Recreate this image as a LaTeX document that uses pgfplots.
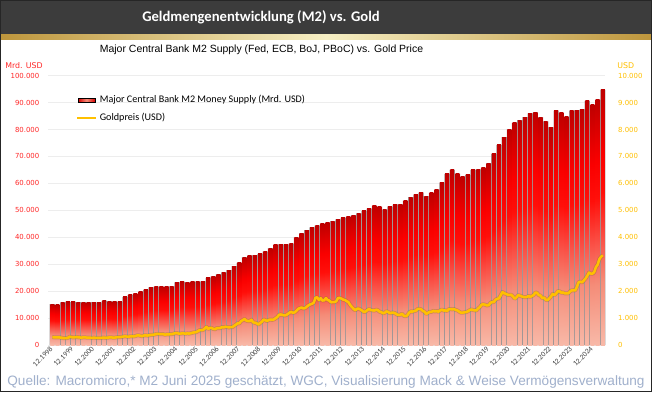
\documentclass[border=0pt]{standalone}
\usepackage{fontspec}
\setmainfont{Liberation Sans}
\newfontfamily\carlito{Carlito}
\newfontfamily\dejavu{DejaVu Sans}
\usepackage{pgfplots}
\pgfplotsset{compat=1.18}
\usepackage{pgfplotstable}

\definecolor{hdr}{RGB}{60,60,60}
\definecolor{goldl}{RGB}{255,192,0}
\definecolor{tickred}{RGB}{255,40,40}
\definecolor{src}{RGB}{160,176,204}
\definecolor{gdark}{RGB}{190,150,60}
\definecolor{glight}{RGB}{246,239,196}
\definecolor{sh0}{RGB}{248,185,168}
\definecolor{sh1}{RGB}{245,140,120}
\definecolor{sh2}{RGB}{250,80,70}
\definecolor{sh3}{RGB}{255,15,10}
\definecolor{sh4}{RGB}{250,0,0}
\definecolor{sh5}{RGB}{215,0,0}
\definecolor{sh6}{RGB}{190,0,0}
\definecolor{gapgray}{RGB}{160,150,150}

\pgfdeclareverticalshading{mtwo}{100bp}{color(0bp)=(sh0); color(25bp)=(sh0); color(37.5bp)=(sh1); color(46bp)=(sh2); color(55bp)=(sh3); color(62.5bp)=(sh4); color(70bp)=(sh5); color(75bp)=(sh6); color(100bp)=(sh6)}

% M2 supply, quarterly from 12.1998 to 06.2025 (Mrd. USD)
\pgfplotstableread[row sep=\\]{
v\\
15200\\14900\\15800\\16000\\16000\\15900\\15900\\15800\\15900\\15700\\16400\\16300\\16100\\16000\\
17900\\18600\\19000\\19700\\20500\\21400\\21700\\21700\\21600\\21800\\23300\\23400\\23300\\23400\\
23500\\23600\\24900\\25500\\26300\\27000\\27800\\29300\\30500\\32600\\33200\\33400\\33800\\34700\\
36000\\37200\\37500\\37300\\37600\\40000\\41500\\42700\\43700\\44300\\45000\\45400\\46000\\46600\\
47200\\47600\\48200\\48900\\49800\\50600\\51700\\51400\\50300\\51400\\52100\\52300\\53600\\54900\\
55800\\56600\\55300\\56500\\57700\\60300\\63500\\65000\\63600\\62500\\63200\\65000\\65200\\65800\\
67500\\71000\\74300\\77200\\80100\\82500\\83500\\84600\\86000\\86500\\84600\\83000\\80800\\87000\\
86200\\84800\\87000\\87200\\87500\\90600\\89200\\91000\\94700\\
}\mtwo

% Gold price, monthly from 12.1998 to 06.2025 (USD)
\pgfplotstableread[row sep=\\]{
g\\
291\\
287\\287\\286\\282\\276\\261\\256\\256\\265\\311\\293\\283\\
284\\300\\286\\280\\275\\286\\282\\275\\274\\270\\266\\272\\
266\\262\\263\\261\\272\\270\\268\\273\\284\\283\\276\\276\\
282\\296\\294\\302\\314\\322\\314\\310\\319\\317\\319\\333\\
357\\359\\340\\328\\355\\356\\351\\360\\379\\379\\389\\407\\
414\\405\\406\\404\\384\\392\\398\\400\\405\\420\\439\\442\\
424\\423\\434\\429\\422\\431\\424\\438\\456\\470\\476\\510\\
549\\555\\557\\610\\676\\596\\633\\632\\598\\585\\627\\629\\
631\\665\\655\\679\\667\\655\\665\\665\\712\\754\\806\\803\\
889\\922\\968\\909\\888\\889\\939\\839\\829\\806\\760\\816\\
858\\943\\924\\890\\929\\946\\934\\949\\996\\1043\\1127\\1134\\
1118\\1095\\1113\\1148\\1205\\1232\\1193\\1215\\1271\\1343\\1370\\1391\\
1356\\1372\\1424\\1474\\1510\\1529\\1572\\1756\\1772\\1665\\1739\\1652\\
1656\\1742\\1673\\1650\\1585\\1596\\1594\\1626\\1744\\1747\\1722\\1685\\
1671\\1627\\1593\\1487\\1414\\1343\\1286\\1347\\1349\\1316\\1276\\1222\\
1244\\1300\\1336\\1299\\1287\\1279\\1311\\1296\\1238\\1222\\1176\\1200\\
1250\\1227\\1179\\1198\\1199\\1181\\1131\\1117\\1125\\1159\\1086\\1068\\
1097\\1199\\1246\\1242\\1260\\1276\\1337\\1341\\1326\\1266\\1236\\1152\\
1192\\1234\\1231\\1266\\1246\\1260\\1236\\1283\\1314\\1280\\1283\\1265\\
1331\\1331\\1325\\1335\\1303\\1282\\1238\\1202\\1199\\1215\\1221\\1250\\
1292\\1320\\1301\\1286\\1284\\1359\\1413\\1500\\1511\\1495\\1471\\1480\\
1560\\1597\\1592\\1683\\1716\\1732\\1846\\1968\\1922\\1900\\1866\\1858\\
1867\\1808\\1718\\1760\\1850\\1834\\1807\\1785\\1775\\1777\\1821\\1790\\
1817\\1856\\1948\\1937\\1849\\1837\\1733\\1765\\1681\\1665\\1726\\1798\\
1898\\1855\\1912\\2000\\1992\\1942\\1951\\1918\\1916\\1916\\1985\\2030\\
2034\\2024\\2160\\2331\\2351\\2326\\2398\\2470\\2571\\2690\\2651\\2648\\
2709\\2895\\2984\\3193\\3280\\3330\\
}\gold

\pgfplotsset{mbar/.style={ybar, bar width=2.25, bar shift=0pt, shade, shading=mtwo, draw=none, forget plot}}

\begin{document}
\begin{tikzpicture}
\begin{scope}[x=0.75pt,y=0.75pt]
\useasboundingbox (0,0) rectangle (652,392);
\fill[white] (0,0) rectangle (652,392);
\fill[hdr] (0,358) rectangle (652,392);
\shade[left color=gdark,right color=gdark,middle color=glight] (0,353) rectangle (652,358);
\node[text=white, font=\carlito\bfseries\fontsize{11}{13}\selectfont] at (261,375) {Geldmengenentwicklung (M2) vs. Gold};
\node[font=\fontsize{7.85}{9.5}\selectfont] at (261.5,342) {Major Central Bank M2 Supply (Fed, ECB, BoJ, PBoC) vs. Gold Price};
\node[anchor=west, text=tickred, font=\dejavu\fontsize{5.9}{6}\selectfont, inner sep=0pt] at (5,326) {Mrd. USD};
\node[anchor=west, text=goldl, font=\dejavu\fontsize{5.9}{6}\selectfont, inner sep=0pt] at (617,326) {USD};
\end{scope}

\begin{axis}[at={(36pt,35.25pt)}, anchor=south west, scale only axis,
  width=418.1pt, height=202pt,
  xmin=-2.5, xmax=319.5, ymin=0, ymax=100000,
  axis y line*=left, axis x line*=bottom,
  axis line style={draw=none}, major tick length=0pt,
  scaled y ticks=false,
  ymajorgrids, grid style={draw=black!7, line width=0.5pt},
  ytick={0,10000,20000,30000,40000,50000,60000,70000,80000,90000,100000},
  yticklabels={0,10.000,20.000,30.000,40.000,50.000,60.000,70.000,80.000,90.000,100.000},
  yticklabel style={font=\dejavu\fontsize{5.2}{6}\selectfont, text=tickred, xshift=-3pt},
  xtick={0,12,...,312},
  xticklabels={12.1998,12.1999,12.2000,12.2001,12.2002,12.2003,12.2004,12.2005,12.2006,12.2007,12.2008,12.2009,12.2010,12.2011,12.2012,12.2013,12.2014,12.2015,12.2016,12.2017,12.2018,12.2019,12.2020,12.2021,12.2022,12.2023,12.2024},
  xticklabel style={rotate=45, anchor=east, font=\carlito\fontsize{5.6}{6}\selectfont, text=black!75, yshift=-1pt, xshift=1.5pt},
  clip=false]
\addplot[ybar, bar width=3, bar shift=0pt, fill=gapgray, draw=none, forget plot] table[x expr=3*\coordindex, y=v] {\mtwo};
\pgfplotsinvokeforeach{0,...,106}{
  \pgfplotstablegetelem{#1}{v}\of\mtwo
  \edef\doplot{\noexpand\addplot[mbar] coordinates {(\the\numexpr3*#1\relax,\pgfplotsretval)};}
  \doplot
}
\end{axis}

\begin{axis}[at={(36pt,35.25pt)}, anchor=south west, scale only axis,
  width=418.1pt, height=202pt,
  xmin=-2.5, xmax=319.5, ymin=0, ymax=10000,
  axis y line*=right, hide x axis,
  axis line style={draw=none}, major tick length=0pt,
  scaled y ticks=false,
  ytick={0,1000,2000,3000,4000,5000,6000,7000,8000,9000,10000},
  yticklabels={0,1.000,2.000,3.000,4.000,5.000,6.000,7.000,8.000,9.000,10.000},
  yticklabel style={font=\dejavu\fontsize{5.2}{6}\selectfont, text=goldl, xshift=6pt},
  legend style={at={(0.043,0.947)}, anchor=north west, draw=none, fill=none,
    font=\carlito\fontsize{7.6}{8}\selectfont, row sep=2pt},
  legend cell align=left]
\addlegendimage{legend image code/.code={\shade[left color=sh5, right color=sh5, middle color=sh1] (0pt,-1.6pt) rectangle (12.75pt,1.6pt);}}
\addlegendentry{Major Central Bank M2 Money Supply (Mrd. USD)}
\addplot[color=gdark!70!black, opacity=0.35, line width=3pt, line join=round, forget plot] table[x expr=\coordindex, y=g] {\gold};
\addplot[goldl, line width=1.9pt, line join=round, legend image code/.code={\draw[goldl, line width=1.7pt] (-0.5pt,0pt) -- (13.5pt,0pt);}] table[x expr=\coordindex, y=g] {\gold};
\addlegendentry{Goldpreis (USD)}
\end{axis}

\begin{scope}[x=0.75pt,y=0.75pt]
\node[text=src, font=\fontsize{10.2}{12}\selectfont] at (326,10) {Quelle: Macromicro,* M2 Juni 2025 geschätzt, WGC, Visualisierung Mack \& Weise Vermögensverwaltung};
\draw[black!85, line width=1.1pt] (0.75,0.75) rectangle (651.25,391.25);
\end{scope}
\end{tikzpicture}
\end{document}
